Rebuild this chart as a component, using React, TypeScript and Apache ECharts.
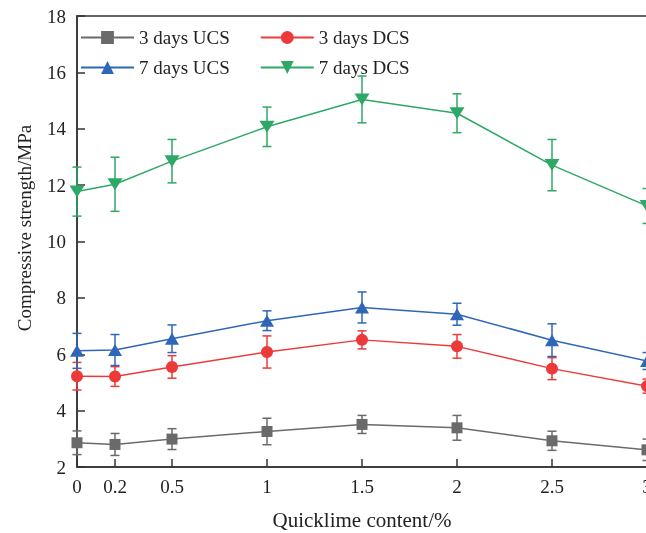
import React, { useEffect, useRef } from "react";
import * as echarts from "echarts";

const xValues = [0, 0.2, 0.5, 1, 1.5, 2, 2.5, 3];
const xTickValues = [0, 0.2, 0.5, 1, 1.5, 2, 2.5, 3];

const ucs3 = [2.86, 2.8, 2.99, 3.26, 3.51, 3.39, 2.93, 2.61];
const ucs3Err = [0.42, 0.39, 0.37, 0.47, 0.32, 0.44, 0.34, 0.38];
const dcs3 = [5.22, 5.21, 5.55, 6.08, 6.51, 6.28, 5.49, 4.87];
const dcs3Err = [0.49, 0.35, 0.4, 0.57, 0.32, 0.42, 0.39, 0.25];
const ucs7 = [6.12, 6.15, 6.55, 7.19, 7.66, 7.42, 6.5, 5.76];
const ucs7Err = [0.62, 0.55, 0.49, 0.35, 0.55, 0.39, 0.58, 0.3];
const dcs7 = [11.77, 12.03, 12.85, 14.07, 15.04, 14.55, 12.71, 11.26];
const dcs7Err = [0.87, 0.96, 0.77, 0.7, 0.83, 0.69, 0.91, 0.62];

const names = ["3 days UCS", "3 days DCS", "7 days UCS", "7 days DCS"];
const colors = ["#6a6a6a", "#ec3a3a", "#2f66b7", "#2ea866"];

const FONT = "'Liberation Serif', 'Times New Roman', serif";
const TXT = "#222";

export default function App() {
  const ref = useRef<HTMLDivElement>(null);
  useEffect(() => {
    if (!ref.current) return;
    const chart = echarts.init(ref.current, undefined, { renderer: "svg" });

    const groups = [
      { name: names[0], vals: ucs3, errs: ucs3Err, color: colors[0], symbol: "rect", size: 11 },
      { name: names[1], vals: dcs3, errs: dcs3Err, color: colors[1], symbol: "circle", size: 12 },
      { name: names[2], vals: ucs7, errs: ucs7Err, color: colors[2], symbol: "triangle", size: [14, 12] },
      { name: names[3], vals: dcs7, errs: dcs7Err, color: colors[3], symbol: "triangle", size: [15, 12], rotate: 180 },
    ];

    const series: any[] = [];
    groups.forEach((g, gi) => {
      series.push({
        type: "custom",
        name: "err" + gi,
        data: xValues.map((x, i) => [x, g.vals[i] - g.errs[i], g.vals[i] + g.errs[i]]),
        encode: { x: 0, y: [1, 2] },
        z: 2,
        renderItem: (params: any, api: any) => {
          const x = api.value(0);
          const lo = api.coord([x, api.value(1)]);
          const hi = api.coord([x, api.value(2)]);
          const cap = 4.5;
          const style = { stroke: g.color, lineWidth: 1.5 };
          return {
            type: "group",
            children: [
              { type: "line", shape: { x1: lo[0], y1: lo[1], x2: hi[0], y2: hi[1] }, style },
              { type: "line", shape: { x1: lo[0] - cap, y1: lo[1], x2: lo[0] + cap, y2: lo[1] }, style },
              { type: "line", shape: { x1: hi[0] - cap, y1: hi[1], x2: hi[0] + cap, y2: hi[1] }, style },
            ],
          };
        },
      });
      series.push({
        type: "line",
        name: g.name,
        data: xValues.map((x, i) => [x, g.vals[i]]),
        symbol: g.symbol,
        symbolSize: g.size,
        symbolRotate: g.rotate || 0,
        showAllSymbol: true,
        z: 3,
        lineStyle: { color: g.color, width: 1.5 },
        itemStyle: { color: g.color },
      });
    });

    const legendBase = {
      orient: "horizontal",
      left: 80,
      padding: 0,
      itemWidth: 53,
      itemHeight: 16,
      itemGap: 30,
      textStyle: { fontFamily: FONT, fontSize: 19, color: TXT },
    };

    chart.setOption({
      animation: false,
      textStyle: { fontFamily: FONT },
      grid: {
        left: 77,
        top: 16,
        width: 570,
        height: 451,
        show: true,
        borderColor: "#333",
        borderWidth: 1.5,
        containLabel: false,
        outerBoundsMode: "none",
      },
      legend: [
        { ...legendBase, top: 28, data: [names[0], names[1]] },
        { ...legendBase, top: 58, data: [names[2], names[3]] },
      ],
      xAxis: {
        type: "value",
        min: 0,
        max: 3,
        name: "Quicklime content/%",
        nameLocation: "middle",
        nameGap: 42,
        nameTextStyle: { fontFamily: FONT, fontSize: 21, color: TXT },
        splitLine: { show: false },
        axisLine: { lineStyle: { color: "#333", width: 1.5 } },
        axisTick: {
          inside: true,
          length: 8,
          customValues: xTickValues,
          lineStyle: { color: "#333", width: 1.5 },
        },
        axisLabel: {
          customValues: xTickValues,
          fontFamily: FONT,
          fontSize: 19,
          color: TXT,
          margin: 10,
          hideOverlap: false,
        },
      },
      yAxis: {
        type: "value",
        min: 2,
        max: 18,
        interval: 2,
        splitLine: { show: false },
        axisLine: { show: true, lineStyle: { color: "#333", width: 1.5 } },
        axisTick: { inside: true, length: 8, lineStyle: { color: "#333", width: 1.5 } },
        axisLabel: { fontFamily: FONT, fontSize: 19, color: TXT, margin: 11 },
      },
      graphic: [
        {
          type: "text",
          x: 24,
          y: 228,
          rotation: Math.PI / 2,
          style: {
            text: "Compressive strength/MPa",
            fontFamily: FONT,
            fontSize: 19,
            fill: TXT,
            align: "center",
            verticalAlign: "middle",
          },
        },
      ],
      series,
    });

    return () => chart.dispose();
  }, []);

  return (
    <div
      ref={ref}
      style={{ position: "fixed", left: 0, top: 0, width: 646, height: 533 }}
    />
  );
}
